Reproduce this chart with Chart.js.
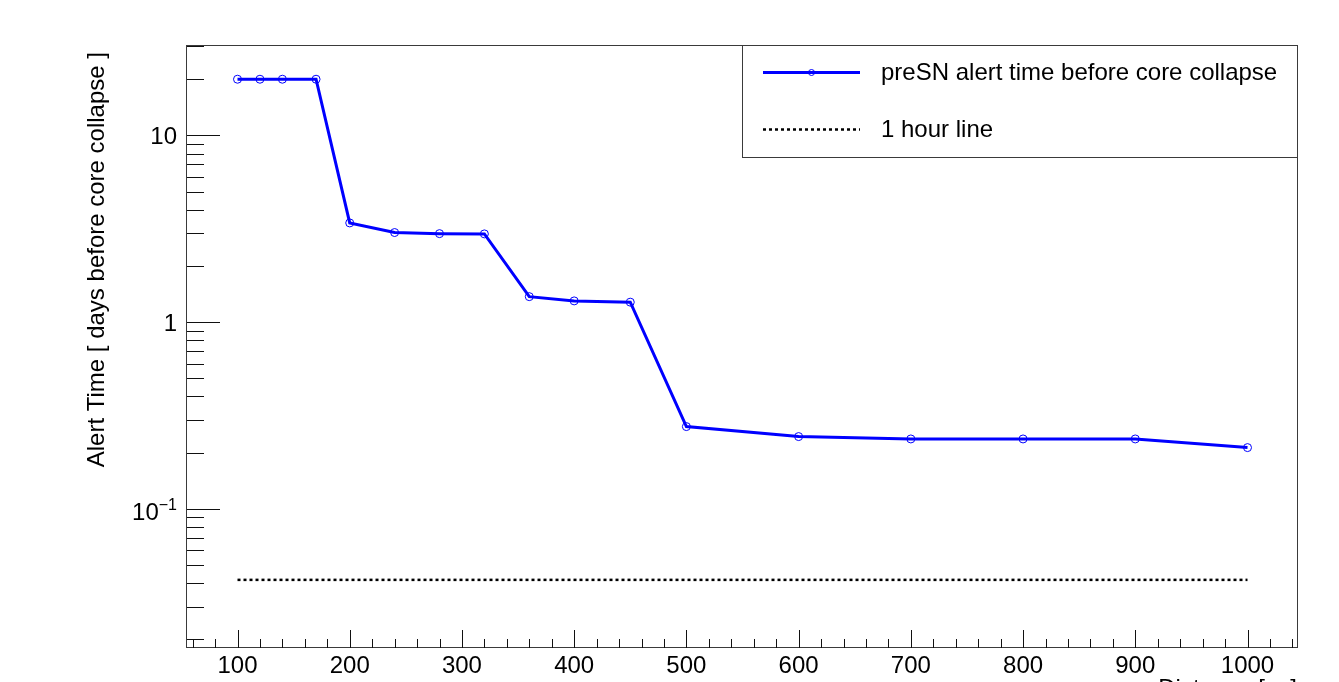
<!DOCTYPE html>
<html>
<head>
<meta charset="utf-8">
<script src="https://cdn.jsdelivr.net/npm/chart.js@4/dist/chart.umd.min.js"></script>
<style>
  html, body { margin: 0; padding: 0; background: #fff; overflow: hidden; }
  #wrap { width: 1339px; height: 682px; position: relative; }
</style>
</head>
<body>
<div id="wrap"><canvas id="c" width="1339" height="682"></canvas></div>
<script>
// Alert time of the pre-supernova monitor versus distance
const distances = [100, 120, 140, 170, 200, 240, 280, 320, 360, 400, 450, 500, 600, 700, 800, 900, 1000];
const alertDays = [20, 20, 20, 20, 3.4, 3.02, 2.98, 2.97, 1.37, 1.30, 1.28, 0.276, 0.244, 0.237, 0.237, 0.237, 0.213];

// Reference line: one hour expressed in days
const hourLineX = [100, 1000];
const hourLineY = [0.0417, 0.0417];

// Axis ranges and ticks
const xRange = [55, 1045];
const yRange = [0.018, 30.5];
const xMajorTicks = [100, 200, 300, 400, 500, 600, 700, 800, 900, 1000];
const xTickLabels = ['100', '200', '300', '400', '500', '600', '700', '800', '900', '1000'];
const xMinorStep = 20;
const yMajorTicks = [0.1, 1, 10];
const yTickLabels = [['10', '\u22121'], ['1', ''], ['10', '']];

const seriesLabels = ['preSN alert time before core collapse', '1 hour line'];
const axisTitles = { x: 'Distance [pc]', y: 'Alert Time [ days before core collapse ]' };

const FONT = '"Liberation Sans", Arial, Helvetica, sans-serif';
const BLUE = '#0000ff';

const toPoints = (xs, ys) => xs.map((v, i) => ({ x: v, y: ys[i] }));

// Frame, inward ticks, labels, titles and boxed legend
const rootStyle = {
  id: 'rootStyle',
  afterDraw(chart) {
    const { ctx, chartArea: a, scales: { x, y } } = chart;
    ctx.save();

    // frame
    ctx.strokeStyle = '#3a3a3a';
    ctx.lineWidth = 1;
    ctx.strokeRect(a.left - 0.5, a.top + 0.5, a.right - a.left, a.bottom - a.top - 1);

    // x ticks (inside the frame)
    ctx.strokeStyle = '#111';
    ctx.beginPath();
    for (let v = Math.ceil(x.min / xMinorStep) * xMinorStep; v <= x.max; v += xMinorStep) {
      const px = Math.round(x.getPixelForValue(v)) + 0.5;
      const len = xMajorTicks.includes(v) ? 18 : 9;
      ctx.moveTo(px, a.bottom);
      ctx.lineTo(px, a.bottom - len);
    }
    // y ticks (log decades, 1..9 per decade)
    for (let d = 0.01; d <= 10.0001; d *= 10) {
      for (let m = 1; m <= 9; m++) {
        const v = +(m * d).toPrecision(6);
        if (v < y.min - 1e-9 || v > y.max + 1e-9) continue;
        const py = Math.round(y.getPixelForValue(v)) + 0.5;
        const len = m === 1 ? 33 : 17;
        ctx.moveTo(a.left, py);
        ctx.lineTo(a.left + len, py);
      }
    }
    ctx.stroke();

    // x tick labels
    ctx.fillStyle = '#000';
    ctx.font = '24px ' + FONT;
    ctx.textAlign = 'center';
    ctx.textBaseline = 'alphabetic';
    xMajorTicks.forEach((v, i) => {
      ctx.fillText(xTickLabels[i], x.getPixelForValue(v), a.bottom + 25);
    });

    // y tick labels (with optional exponent)
    const rightEdge = a.left - 10;
    yMajorTicks.forEach((v, i) => {
      const [base, exp] = yTickLabels[i];
      const py = y.getPixelForValue(v);
      ctx.textAlign = 'right';
      if (exp) {
        ctx.font = '16px ' + FONT;
        const ew = ctx.measureText(exp).width;
        ctx.fillText(exp, rightEdge, py + 1);
        ctx.font = '24px ' + FONT;
        ctx.fillText(base, rightEdge - ew, py + 11);
      } else {
        ctx.font = '24px ' + FONT;
        ctx.fillText(base, rightEdge, py + 9);
      }
    });

    // axis titles
    ctx.font = '24px ' + FONT;
    ctx.textAlign = 'right';
    ctx.fillText(axisTitles.x, a.right - 1, a.bottom + 48);
    ctx.save();
    ctx.translate(104, 52);
    ctx.rotate(-Math.PI / 2);
    ctx.textAlign = 'right';
    ctx.fillText(axisTitles.y, 0, 0);
    ctx.restore();

    // legend box
    const lx0 = 742.5, ly0 = a.top + 0.5, lx1 = a.right - 0.5, ly1 = 157.5;
    ctx.fillStyle = '#fff';
    ctx.fillRect(lx0, ly0, lx1 - lx0, ly1 - ly0);
    ctx.strokeStyle = '#3a3a3a';
    ctx.lineWidth = 1;
    ctx.strokeRect(lx0, ly0, lx1 - lx0, ly1 - ly0);

    const rows = [72.5, 129.5];
    const ds = chart.data.datasets;
    // entry 1: line with marker
    ctx.strokeStyle = ds[0].borderColor;
    ctx.lineWidth = ds[0].borderWidth;
    ctx.setLineDash([]);
    ctx.beginPath();
    ctx.moveTo(763, rows[0]); ctx.lineTo(860, rows[0]);
    ctx.stroke();
    ctx.lineWidth = 1;
    ctx.beginPath();
    ctx.arc(811.5, rows[0], 3, 0, Math.PI * 2);
    ctx.stroke();
    // entry 2: dotted line
    ctx.strokeStyle = ds[1].borderColor;
    ctx.lineWidth = ds[1].borderWidth;
    ctx.setLineDash(ds[1].borderDash);
    ctx.beginPath();
    ctx.moveTo(763, rows[1]); ctx.lineTo(860, rows[1]);
    ctx.stroke();
    ctx.setLineDash([]);

    ctx.fillStyle = '#000';
    ctx.font = '24px ' + FONT;
    ctx.textAlign = 'left';
    ctx.textBaseline = 'middle';
    ds.forEach((d, i) => ctx.fillText(d.label, 881, rows[i] + 1));

    ctx.restore();
  }
};

new Chart(document.getElementById('c'), {
  type: 'line',
  data: {
    datasets: [
      {
        label: seriesLabels[0],
        data: toPoints(distances, alertDays),
        borderColor: BLUE,
        borderWidth: 3,
        pointStyle: 'circle',
        pointRadius: 4,
        pointBorderWidth: 1,
        pointBorderColor: BLUE,
        pointBackgroundColor: 'rgba(0,0,0,0)',
        tension: 0,
        fill: false
      },
      {
        label: seriesLabels[1],
        data: toPoints(hourLineX, hourLineY),
        borderColor: '#000',
        borderWidth: 2.5,
        borderDash: [3, 3],
        pointRadius: 0,
        tension: 0,
        fill: false
      }
    ]
  },
  options: {
    responsive: false,
    devicePixelRatio: 1,
    animation: false,
    events: [],
    layout: { padding: { left: 187, right: 41, top: 45, bottom: 34 } },
    scales: {
      x: { type: 'linear', min: xRange[0], max: xRange[1], display: false },
      y: { type: 'logarithmic', min: yRange[0], max: yRange[1], display: false }
    },
    plugins: {
      legend: { display: false },
      tooltip: { enabled: false },
      title: { display: false }
    }
  },
  plugins: [rootStyle]
});
</script>
</body>
</html>
